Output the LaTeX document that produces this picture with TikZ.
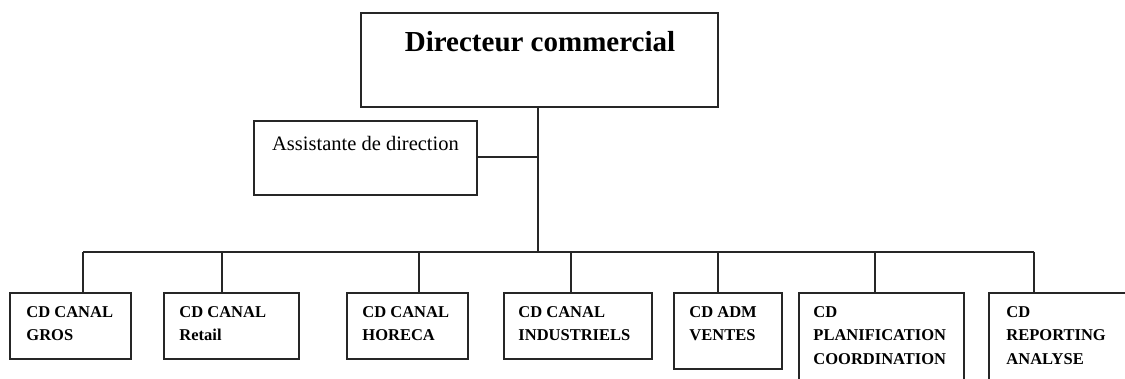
\documentclass[tikz,border=0pt]{standalone}
\usepackage{fontspec}
\setmainfont{Liberation Serif}
\usetikzlibrary{calc}

\tikzset{
  x=1pt, y=-1pt,
  box/.style={draw=black!85, line width=1.5pt, rectangle, inner sep=0pt},
  unit/.style={font=\bfseries\fontsize{16.5}{23.5}\selectfont, align=left, inner sep=0pt, anchor=north west},
  link/.style={draw=black!85, line width=1.5pt}
}

% rectangle node spanning two corner points (x1,y1)-(x2,y2)
\newcommand{\boxat}[5]{%
  \node[box, minimum width={#4-#2}, minimum height={#5-#3}] (#1) at ({(#2+#4)/2},{(#3+#5)/2}) {};}

\begin{document}
\begin{tikzpicture}
\useasboundingbox (0,0) rectangle (1125,379);
\clip (0,0) rectangle (1125,379);
\fill[white] (0,0) rectangle (1125,379);

% head and assistant
\boxat{dir}{361}{13}{718}{107}
\node[font=\bfseries\fontsize{29}{32}\selectfont, anchor=base, inner sep=0pt] (dirt) at (540,52) {Directeur commercial};
\boxat{ast}{254}{121}{477}{195}
\node[font=\fontsize{20.5}{24}\selectfont, anchor=base, inner sep=0pt] (astt) at (365.5,151) {Assistante de direction};

% departments
\boxat{b1}{10}{293}{131}{359}
\boxat{b2}{164}{293}{299}{359}
\boxat{b3}{347}{293}{468}{359}
\boxat{b4}{504}{293}{652}{359}
\boxat{b5}{674}{293}{782}{369}
\boxat{b6}{799}{293}{964}{395}
\boxat{b7}{989}{293}{1140}{395}

\node[unit] (t1) at ($(b1.north west)+(17,14)$) {CD CANAL\\GROS};
\node[unit] (t2) at ($(b2.north west)+(16,14)$) {CD CANAL\\Retail};
\node[unit] (t3) at ($(b3.north west)+(16,14)$) {CD CANAL\\HORECA};
\node[unit] (t4) at ($(b4.north west)+(15,14)$) {CD CANAL\\INDUSTRIELS};
\node[unit] (t5) at ($(b5.north west)+(16,14)$) {CD ADM\\VENTES};
\node[unit] (t6) at ($(b6.north west)+(15,14)$) {CD\\PLANIFICATION\\COORDINATION};
\node[unit] (t7) at ($(b7.north west)+(18,14)$) {CD\\REPORTING\\ANALYSE};

% bus and drop points
\coordinate (trunk) at (538,252);
\coordinate (d1) at (83,252);
\coordinate (d2) at (222,252);
\coordinate (d3) at (419,252);
\coordinate (d4) at (571,252);
\coordinate (d5) at (718,252);
\coordinate (d6) at (875,252);
\coordinate (d7) at (1034,252);

\draw[link] (trunk |- dir.south) -- (trunk);
\draw[link] (ast.east) ++(0,0) coordinate (ae) (ae |- 0,157) -- (trunk |- 0,157);
\draw[link] (d1) -- (d7);
\foreach \i in {1,...,7} \draw[link] (d\i) -- (d\i |- b\i.north);
\end{tikzpicture}
\end{document}
